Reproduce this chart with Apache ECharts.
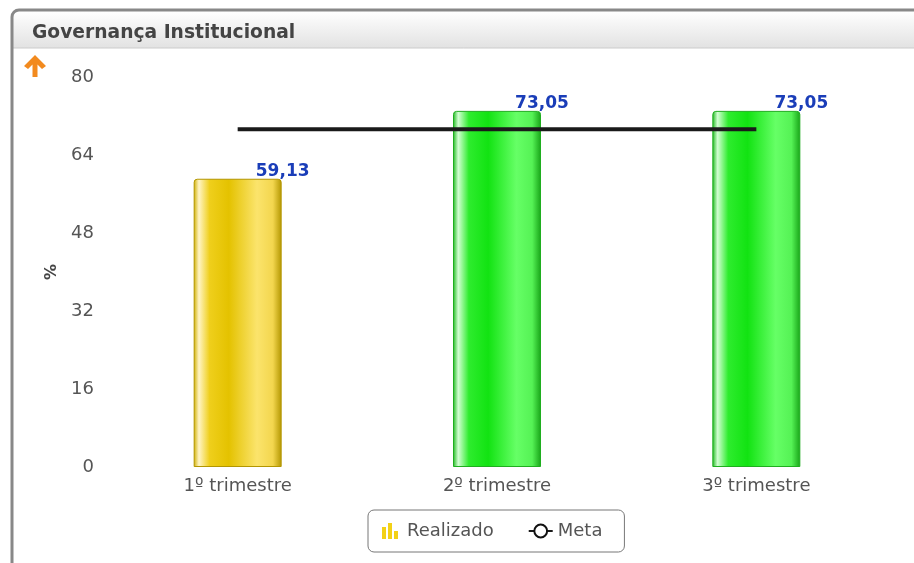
<!DOCTYPE html>
<html>
<head>
<meta charset="utf-8">
<script src="https://cdn.jsdelivr.net/npm/echarts@6/dist/echarts.min.js"></script>
<style>
  html, body { margin: 0; padding: 0; background: #fff; }
  #chart { width: 914px; height: 563px; }
</style>
</head>
<body>
<div id="chart"></div>
<script>
// dados
var categorias = ['1º trimestre', '2º trimestre', '3º trimestre'];
var realizado = [59.13, 73.05, 73.05];
var meta = [69.3, 69.3, 69.3];
var corBarra = ['amarelo', 'verde', 'verde'];
var yTicks = [0, 16, 32, 48, 64, 80];

var gradientes = {
    amarelo: new echarts.graphic.LinearGradient(0, 0, 1, 0, [
        {offset: 0, color: '#cfae00'},
        {offset: 0.06, color: '#fff4c4'},
        {offset: 0.18, color: '#efcf1c'},
        {offset: 0.4, color: '#e4c200'},
        {offset: 0.72, color: '#fbe46c'},
        {offset: 0.9, color: '#f3d64e'},
        {offset: 1, color: '#b39600'}
    ]),
    verde: new echarts.graphic.LinearGradient(0, 0, 1, 0, [
        {offset: 0, color: '#1cb81c'},
        {offset: 0.06, color: '#d2ffd2'},
        {offset: 0.18, color: '#2eec2e'},
        {offset: 0.4, color: '#12e312'},
        {offset: 0.72, color: '#66ff66'},
        {offset: 0.9, color: '#55f255'},
        {offset: 1, color: '#17a317'}
    ])
};
var bordas = {amarelo: '#b39600', verde: '#1fae1f'};

var barData = [];
for (var i = 0; i < realizado.length; i++) {
    barData.push({
        value: realizado[i],
        itemStyle: {
            color: gradientes[corBarra[i]],
            borderColor: bordas[corBarra[i]],
            borderWidth: 1,
            borderRadius: [3, 3, 0, 0]
        }
    });
}

var dom = document.getElementById('chart');
var myChart = echarts.init(dom);
var option = {
    animation: false,
    textStyle: {fontFamily: 'DejaVu Sans'},
    graphic: [
        {
            type: 'rect', z: -10,
            shape: {x: 13, y: 11, width: 920, height: 37, r: [6, 0, 0, 0]},
            style: {
                fill: new echarts.graphic.LinearGradient(0, 0, 0, 1, [
                    {offset: 0, color: '#ffffff'},
                    {offset: 1, color: '#e2e2e2'}
                ])
            }
        },
        {
            type: 'line', z: -9,
            shape: {x1: 13, y1: 48, x2: 914, y2: 48},
            style: {stroke: '#cccccc', lineWidth: 1}
        },
        {
            type: 'rect', z: 10,
            shape: {x: 12, y: 10, width: 930, height: 600, r: 7},
            style: {fill: null, stroke: '#888888', lineWidth: 3}
        },
        {
            type: 'text', left: 32, top: 24,
            style: {text: 'Governança Institucional', font: 'bold 18.7px "DejaVu Sans"', fill: '#444444'}
        },
        {
            type: 'polygon',
            shape: {points: [[35, 55], [46, 66], [42, 69], [37.5, 64.5], [37.5, 77], [32.5, 77], [32.5, 64.5], [28, 69], [24, 66]]},
            style: {fill: '#f28a1e'}
        }
    ],
    legend: {
        left: 368, top: 510,
        padding: [12, 22, 12, 14],
        itemGap: 34,
        itemWidth: 24, itemHeight: 16,
        borderColor: '#777777', borderWidth: 1, borderRadius: 6,
        textStyle: {fontSize: 18, color: '#555555', fontFamily: 'DejaVu Sans'},
        data: [
            {name: 'Realizado', icon: 'path://M0,3h3v9h-3z M4.5,0h3v12h-3z M9,6h3v6h-3z', itemStyle: {color: '#f3d116'}},
            {name: 'Meta'}
        ]
    },
    grid: {left: 108, right: 28, top: 77, height: 390, containLabel: false},
    xAxis: {
        type: 'category',
        data: categorias,
        axisLine: {show: false},
        axisTick: {show: false},
        axisLabel: {fontSize: 18, color: '#555555', margin: 10}
    },
    yAxis: {
        type: 'value',
        min: yTicks[0], max: yTicks[yTicks.length - 1], interval: 16,
        name: '%',
        nameLocation: 'middle',
        nameGap: 37,
        nameRotate: 90,
        nameTextStyle: {fontSize: 16, fontWeight: 'bold', color: '#444444'},
        axisLine: {show: false},
        axisTick: {show: false},
        splitLine: {show: false},
        axisLabel: {fontSize: 18, color: '#555555', margin: 14}
    },
    series: [
        {
            name: 'Realizado',
            type: 'bar',
            barWidth: 88,
            data: barData,
            label: {
                show: true,
                position: 'top',
                offset: [45, 6],
                fontSize: 17,
                fontWeight: 'bold',
                color: '#1a3db8',
                formatter: function (p) {
                    return p.value.toFixed(2).replace('.', ',');
                }
            }
        },
        {
            name: 'Meta',
            type: 'line',
            data: meta,
            symbol: 'emptyCircle',
            symbolSize: 9,
            showSymbol: false,
            itemStyle: {color: '#111111', borderWidth: 2},
            lineStyle: {color: '#1a1a1a', width: 4},
            z: 5
        }
    ]
};
myChart.setOption(option, true);
</script>
</body>
</html>
